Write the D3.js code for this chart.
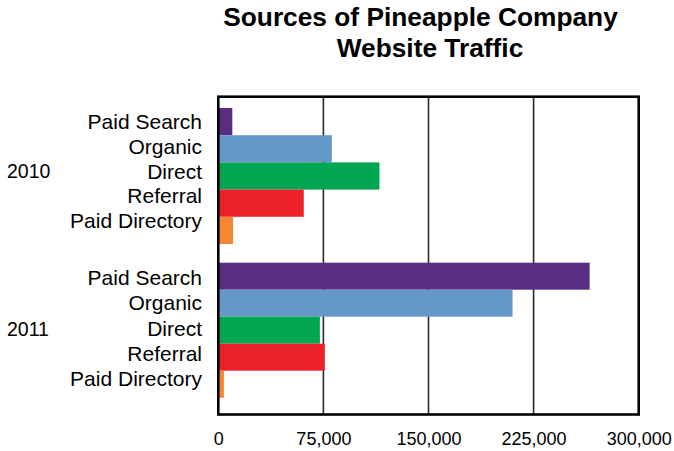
<!DOCTYPE html>
<html>
<head>
<meta charset="utf-8">
<script src="https://cdn.jsdelivr.net/npm/d3@7"></script>
<style>
  html, body { margin: 0; padding: 0; background: #fff; }
  svg { display: block; }
  text { font-family: "Liberation Sans", Arial, Helvetica, sans-serif; fill: #000; }
</style>
</head>
<body>
<svg id="chart" width="674" height="451"></svg>
<script>
// Traffic sources, listed top to bottom within each year
const sources = ["Paid Search", "Organic", "Direct", "Referral", "Paid Directory"];
const years = ["2010", "2011"];
const visits2010 = [10000, 81000, 115000, 61000, 10500];
const visits2011 = [265000, 210000, 72500, 76000, 4000];
const sourceColors = ["#5a2d81", "#6598c9", "#00a651", "#ed2129", "#f58634"];
const xTicks = [0, 75000, 150000, 225000, 300000];

const seriesByYear = { "2010": visits2010, "2011": visits2011 };

const svg = d3.select("#chart");

const plot = { left: 218.3, right: 638.7, top: 96.7, bottom: 414.5 };

const x = d3.scaleLinear().domain([0, 300000]).range([plot.left, plot.right]);

// Bar bands for each year block
const barBands = {
  "2010": d3.scaleBand().domain(sources).range([108, 244]).padding(0),
  "2011": d3.scaleBand().domain(sources).range([262.7, 397.7]).padding(0)
};
// Category label baselines (the labels are set a little tighter than the bars)
const labelPos = {
  "2010": d3.scalePoint().domain(sources).range([129.3, 227.8]),
  "2011": d3.scalePoint().domain(sources).range([284.8, 386.3])
};
const yearBaseline = { "2010": 178, "2011": 335.5 };

// Title
const title = svg.append("g").attr("font-weight", "bold").attr("font-size", 26.3).attr("text-anchor", "middle");
title.append("text").attr("x", 420.5).attr("y", 26).text("Sources of Pineapple Company");
title.append("text").attr("x", 430).attr("y", 57).text("Website Traffic");

// Vertical gridlines
svg.append("g")
  .selectAll("line")
  .data(xTicks.slice(1, -1))
  .join("line")
  .attr("x1", d => x(d)).attr("x2", d => x(d))
  .attr("y1", plot.top).attr("y2", plot.bottom)
  .attr("stroke", "#2a2a2a")
  .attr("stroke-width", 1.6);

// Bars
years.forEach(year => {
  const band = barBands[year];
  svg.append("g")
    .selectAll("rect")
    .data(sources.map((s, i) => ({ source: s, value: seriesByYear[year][i], color: sourceColors[i] })))
    .join("rect")
    .attr("x", x(0))
    .attr("y", d => band(d.source))
    .attr("width", d => x(d.value) - x(0))
    .attr("height", band.bandwidth())
    .attr("fill", d => d.color);
});

// Plot frame
svg.append("rect")
  .attr("x", plot.left).attr("y", plot.top)
  .attr("width", plot.right - plot.left).attr("height", plot.bottom - plot.top)
  .attr("fill", "none")
  .attr("stroke", "#000")
  .attr("stroke-width", 2.6);

// Category and year labels
years.forEach(year => {
  const g = svg.append("g");
  g.selectAll("text.cat")
    .data(sources)
    .join("text")
    .attr("class", "cat")
    .attr("font-size", 21)
    .attr("text-anchor", "end")
    .attr("x", 202)
    .attr("y", d => labelPos[year](d))
    .text(d => d);
  g.append("text")
    .attr("font-size", 19.5)
    .attr("x", 7)
    .attr("y", yearBaseline[year])
    .text(year);
});

// X axis labels
const xAxis = d3.axisBottom(x)
  .tickValues(xTicks)
  .tickSize(0)
  .tickPadding(0)
  .tickFormat(d3.format(","));
const axisG = svg.append("g")
  .attr("transform", `translate(0, ${plot.bottom})`)
  .call(xAxis);
axisG.select(".domain").remove();
axisG.selectAll("text")
  .attr("font-size", 18)
  .attr("font-family", "'Liberation Sans', Arial, Helvetica, sans-serif")
  .attr("fill", "#000")
  .attr("dy", null)
  .attr("y", 30.5);
</script>
</body>
</html>
